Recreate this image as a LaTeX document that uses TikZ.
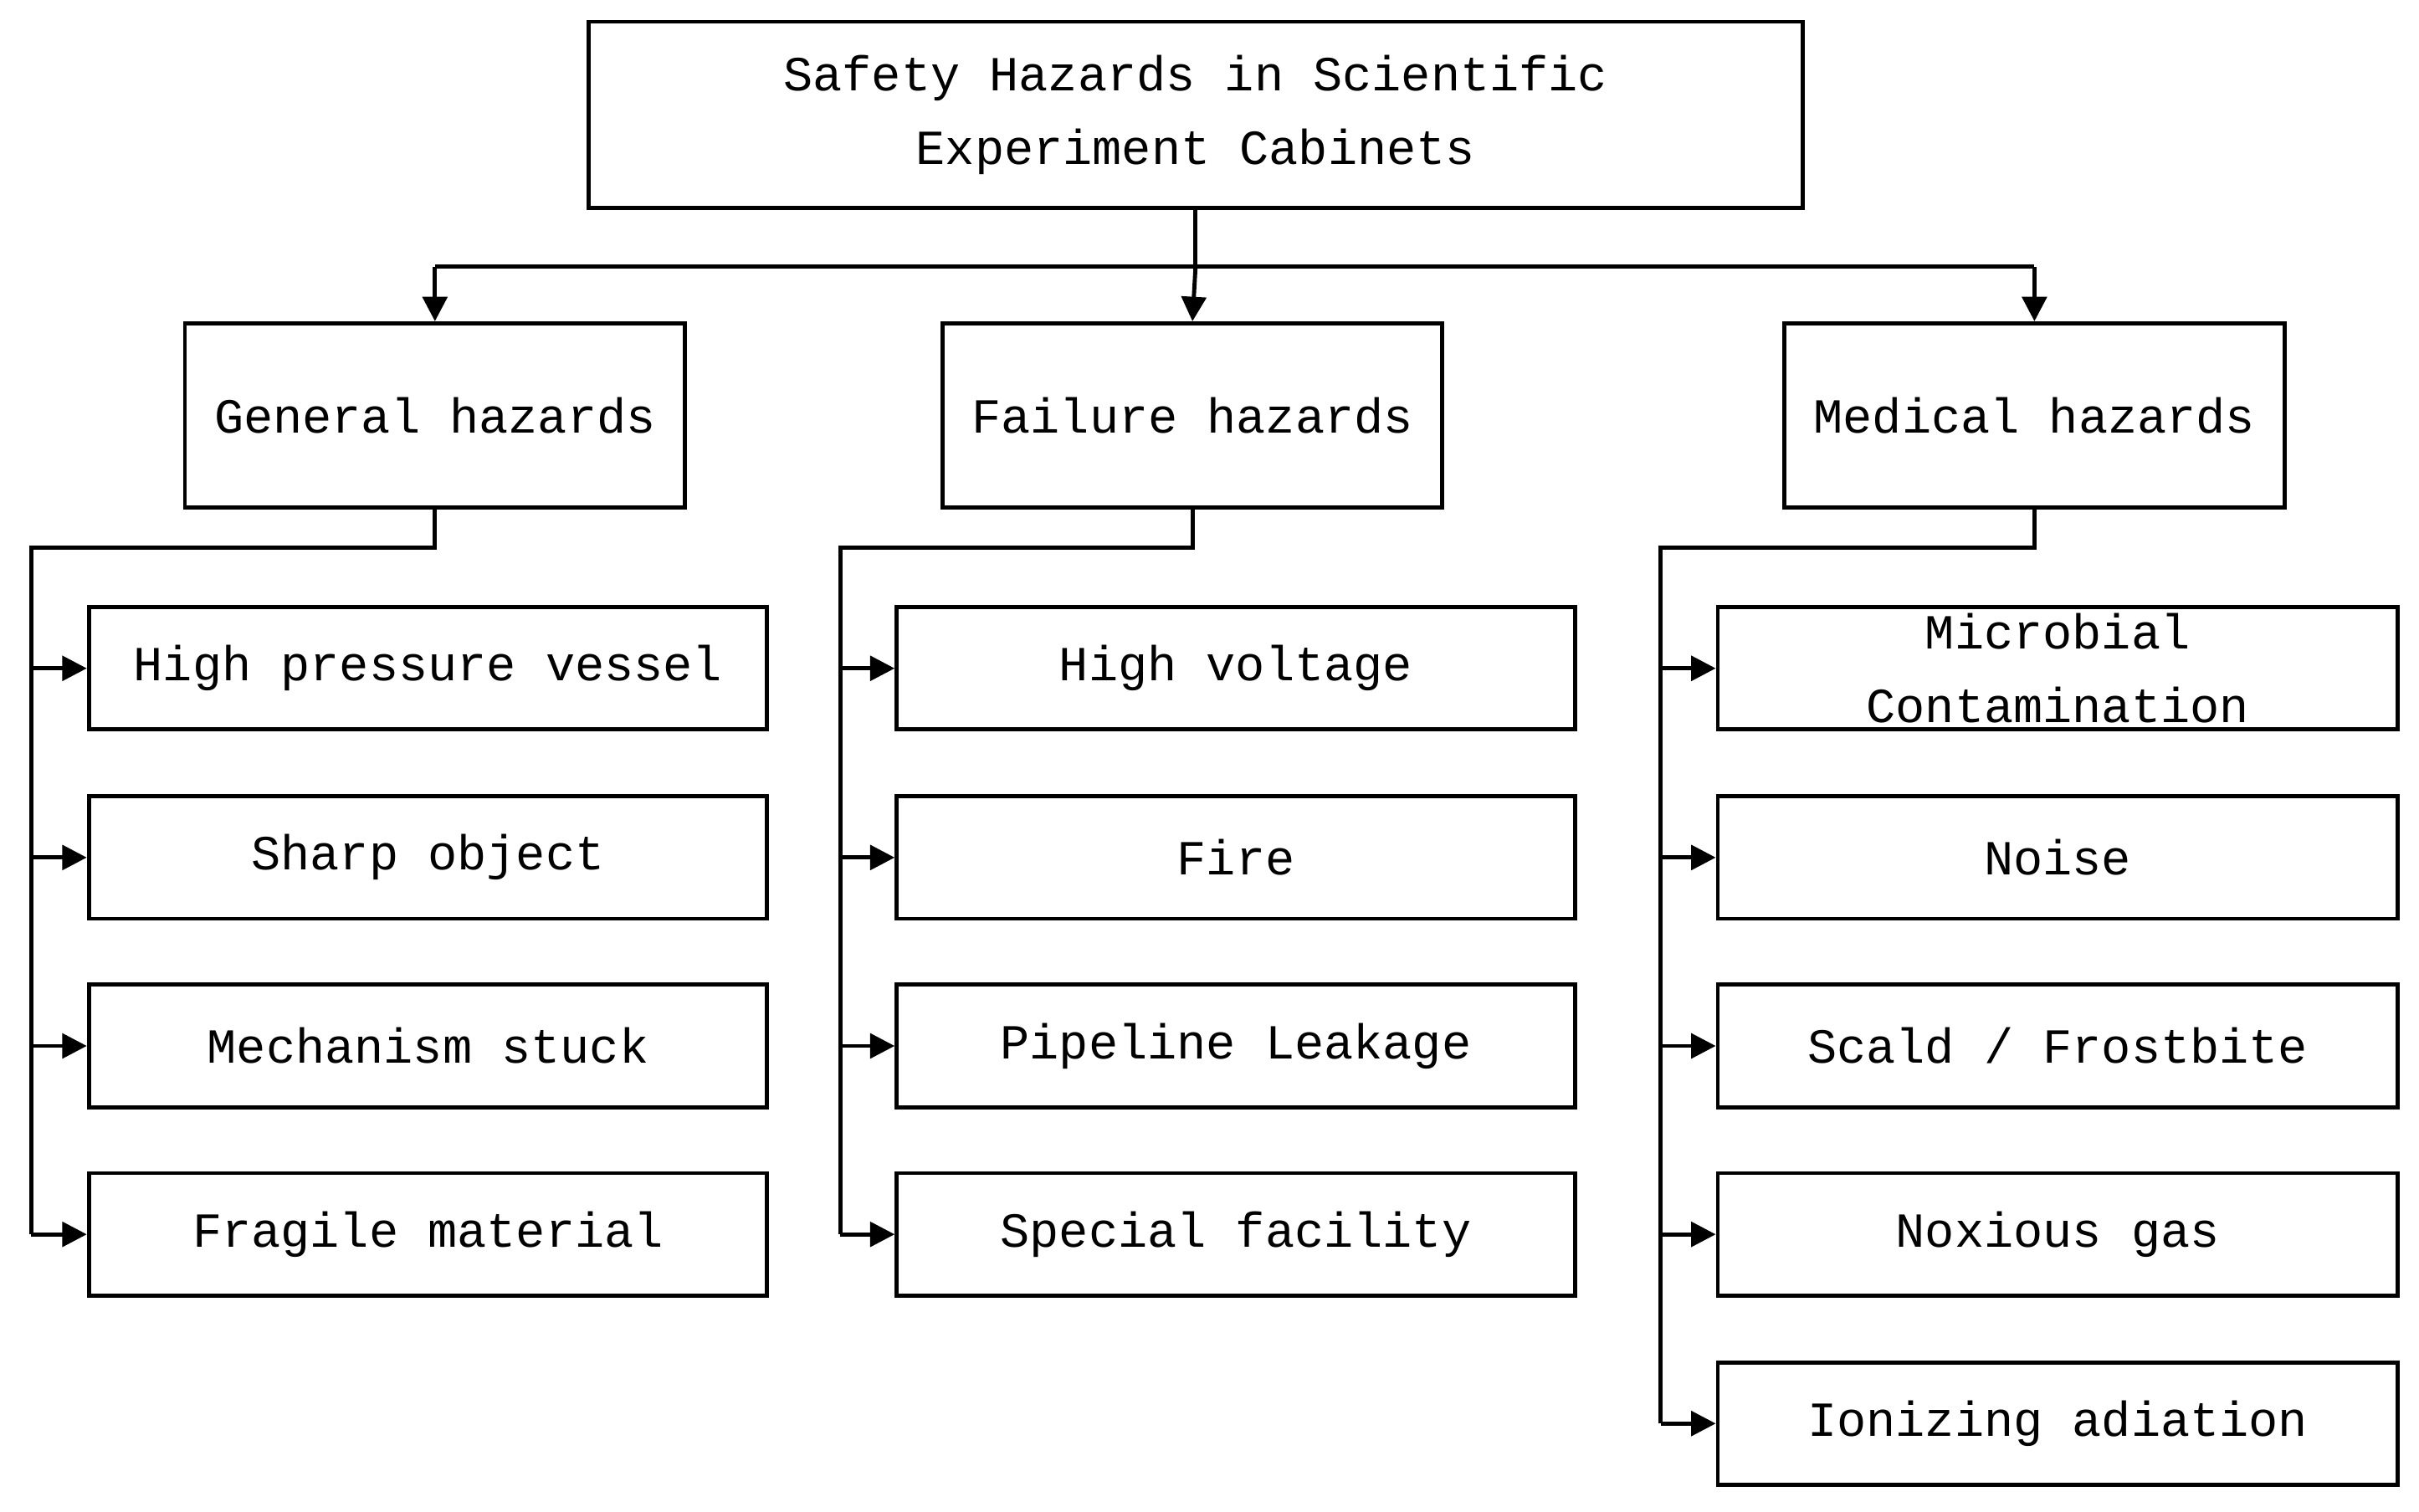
\documentclass[tikz,border=0pt]{standalone}
\usepackage{fontspec}
\setmainfont{Liberation Mono}
\usetikzlibrary{arrows.meta}
\begin{document}
\begin{tikzpicture}[x=0.02cm,y=-0.02cm,
 box/.style={draw,line width=1.5pt,inner sep=0pt,align=center,font=\fontsize{18}{27}\selectfont},
 ln/.style={line width=1.5pt},
 arr/.style={ln,-{Triangle[length=9pt,width=9pt]}}]
\useasboundingbox (0,0) rectangle (1560,975);
\node[box,minimum width=15.66cm,minimum height=2.4cm] (top) at (771,74) {Safety Hazards in Scientific\\Experiment Cabinets};
\foreach \n/\x/\t in {g/280.5/General hazards,f/769/Failure hazards,m/1312/Medical hazards}
 \node[box,minimum width=6.45cm,minimum height=2.38cm] (\n) at (\x,268) {\t};
\coordinate (bj) at (771,172);
\draw[ln] (top.south) -- (bj);
\draw[ln] (g.north |- bj) -- (m.north |- bj);
\draw[arr] (g.north |- bj) -- (g.north);
\draw[arr] (bj) -- (f.north);
\draw[arr] (m.north |- bj) -- (m.north);
\foreach \i/\y in {1/431,2/553,3/674.5,4/796,5/918}{\coordinate (r\i) at (0,\y);}
\foreach \t [count=\i] in {High pressure vessel,Sharp object,Mechanism stuck,Fragile material}
 \node[box,minimum width=8.75cm,minimum height=1.58cm] (g\i) at (276,0 |- r\i) {\t};
\foreach \t [count=\i] in {High voltage,Fire,Pipeline Leakage,Special facility}
 \node[box,minimum width=8.75cm,minimum height=1.58cm] (f\i) at (797,0 |- r\i) {\t};
\foreach \t [count=\i] in {{Microbial\\Contamination},Noise,Scald / Frostbite,Noxious gas,Ionizing adiation}
 \node[box,minimum width=8.77cm,minimum height=1.58cm] (m\i) at (1327,0 |- r\i) {\t};
\coordinate (gb) at (20,353); \coordinate (fb) at (542,353); \coordinate (mb) at (1071,353);
\draw[ln] (g.south) -- (g.south |- gb) -- (gb) -- (gb |- g4.west);
\draw[ln] (f.south) -- (f.south |- fb) -- (fb) -- (fb |- f4.west);
\draw[ln] (m.south) -- (m.south |- mb) -- (mb) -- (mb |- m5.west);
\foreach \i in {1,...,4}{\draw[arr] (gb |- g\i.west) -- (g\i.west); \draw[arr] (fb |- f\i.west) -- (f\i.west);}
\foreach \i in {1,...,5}{\draw[arr] (mb |- m\i.west) -- (m\i.west);}
\end{tikzpicture}
\end{document}
